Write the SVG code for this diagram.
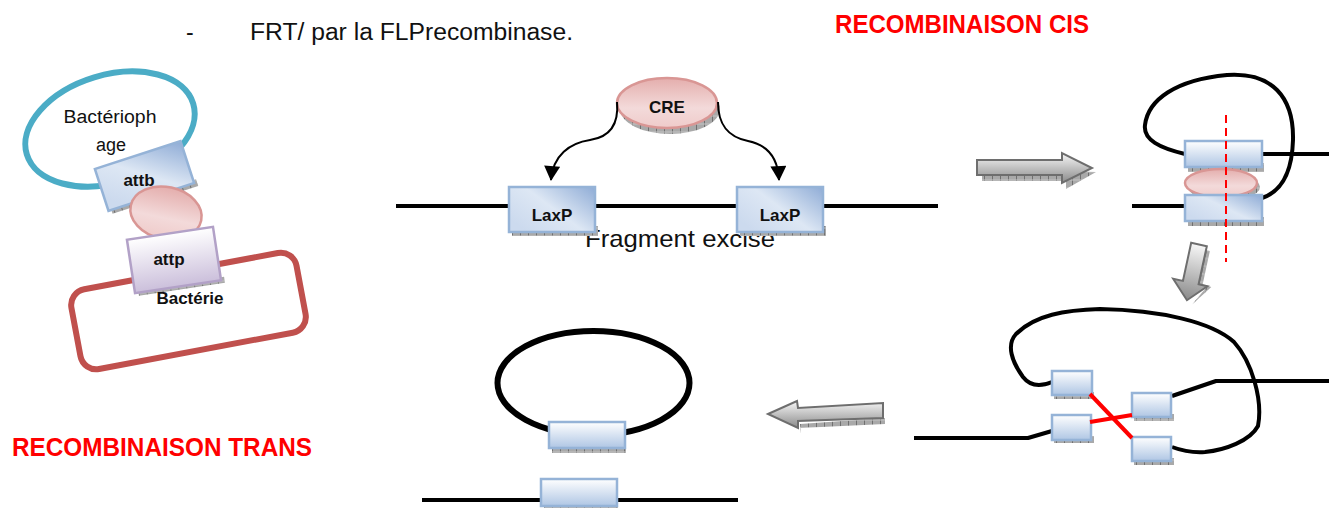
<svg xmlns="http://www.w3.org/2000/svg" width="1329" height="508" viewBox="0 0 1329 508">
  <style>
    .txt { font-family: "Liberation Sans", Arial, sans-serif; fill: #111; }
    .bold { font-weight: bold; }
    .title { font-family: "Liberation Sans", Arial, sans-serif; font-weight: bold; fill: #FF0000; font-size: 25px; }
    .dna { fill: none; stroke: #000; stroke-width: 4; stroke-linecap: butt; stroke-linejoin: round; }
    .box { fill: url(#boxGrad); stroke: #95B3D7; stroke-width: 2.5; }
    .lax { fill: url(#laxGrad); stroke: #95B3D7; stroke-width: 2.5; }
    .shadow { fill: url(#hatch); }
    .pink { fill: url(#pinkGrad); stroke: #D99694; stroke-width: 2.5; }
    .garrow { fill: url(#arrowGrad); stroke: #6E6E6E; stroke-width: 2; stroke-linejoin: miter; }
    .cut { stroke: #FF0000; stroke-width: 4; }
    .curve { fill: none; stroke: #000; stroke-width: 2; }
  </style>
  <defs>
    <pattern id="hatch" patternUnits="userSpaceOnUse" width="8" height="8">
      <rect width="8" height="8" fill="#A9A9A9"/>
      <line x1="0.5" y1="0" x2="0.5" y2="8" stroke="#707070" stroke-width="1"/>
      <path d="M0,4 L8,4" stroke="#C4C4C4" stroke-width="1"/>
    </pattern>
    <linearGradient id="boxGrad" x1="0" y1="0" x2="0" y2="1">
      <stop offset="0" stop-color="#FFFFFF"/>
      <stop offset="1" stop-color="#AFC6E4"/>
    </linearGradient>
    <linearGradient id="laxGrad" x1="0" y1="0.7" x2="1" y2="0">
      <stop offset="0" stop-color="#CCDAEE"/>
      <stop offset="0.45" stop-color="#DDE7F4"/>
      <stop offset="1" stop-color="#8FACD6"/>
    </linearGradient>
    <linearGradient id="attpGrad" x1="0" y1="0" x2="0" y2="1">
      <stop offset="0" stop-color="#FFFFFF"/>
      <stop offset="1" stop-color="#CBBFDB"/>
    </linearGradient>
    <linearGradient id="pinkGrad" x1="0" y1="0" x2="0" y2="1">
      <stop offset="0" stop-color="#E4AEAD"/>
      <stop offset="0.6" stop-color="#F3DADA"/>
      <stop offset="1" stop-color="#EFCBCA"/>
    </linearGradient>
    <linearGradient id="arrowGrad" x1="0" y1="0" x2="0" y2="1">
      <stop offset="0" stop-color="#F7F7F7"/>
      <stop offset="1" stop-color="#8A8A8A"/>
    </linearGradient>
    <marker id="head" markerUnits="userSpaceOnUse" markerWidth="16" markerHeight="16" viewBox="0 0 14 15" refX="13" refY="7.5" orient="auto">
      <path d="M0,0 L14,7.5 L0,15 z" fill="#000"/>
    </marker>
  </defs>

  <!-- heading text -->
  <g id="heading">
    <text class="txt" x="186" y="40" font-size="23">-</text>
    <text class="txt" x="250" y="40" font-size="23.5" textLength="323" lengthAdjust="spacingAndGlyphs">FRT/ par la FLPrecombinase.</text>
    <text class="title" x="835" y="33" textLength="254" lengthAdjust="spacingAndGlyphs">RECOMBINAISON CIS</text>
    <text class="title" x="12" y="456" textLength="300" lengthAdjust="spacingAndGlyphs">RECOMBINAISON TRANS</text>
  </g>

  <!-- trans recombination: phage / bacterium -->
  <g id="bacterie">
    <rect x="-114.5" y="-40.5" width="229" height="81" rx="16" transform="translate(188.5,311) rotate(-10.6)" fill="none" stroke="#C0504D" stroke-width="6"/>
  </g>
  <g id="bacteriophage">
    <ellipse cx="110" cy="129" rx="87" ry="54" transform="rotate(-17 110 129)" fill="none" stroke="#4BACC6" stroke-width="6"/>
    <text class="txt" x="110" y="123" font-size="18" text-anchor="middle" textLength="93" lengthAdjust="spacingAndGlyphs">Bactérioph</text>
    <text class="txt" x="111" y="151" font-size="18" text-anchor="middle">age</text>
  </g>
  <g id="attb">
    <g transform="translate(144.5,176) rotate(-18)">
      <rect class="shadow" x="-42" y="19" width="90" height="7"/>
      <rect class="lax" x="-45" y="-22" width="90" height="44"/>
    </g>
    <text class="txt bold" x="139" y="186" font-size="17" text-anchor="middle">attb</text>
  </g>
  <g id="integrase">
    <ellipse class="pink" cx="166" cy="213" rx="36" ry="26" transform="rotate(12 166 213)"/>
  </g>
  <g id="attp">
    <g transform="translate(174,260) rotate(-8.6)">
      <rect class="shadow" x="-40" y="24" width="87" height="6"/>
      <rect x="-43.5" y="-27" width="87" height="54" fill="url(#attpGrad)" stroke="#B2A1C7" stroke-width="2.5"/>
    </g>
    <text class="txt bold" x="169" y="265" font-size="17" text-anchor="middle">attp</text>
    <text class="txt bold" x="190" y="304" font-size="17" text-anchor="middle">Bactérie</text>
  </g>

  <!-- cis recombination: excision step -->
  <g id="adn-lineaire">
    <line class="dna" x1="396" y1="206" x2="938" y2="206"/>
    <text class="txt" x="585" y="247" font-size="24" textLength="190" lengthAdjust="spacingAndGlyphs">Fragment excise</text>
  </g>
  <g id="laxp-1">
    <rect class="shadow" x="512" y="226" width="86" height="10"/>
    <rect class="lax" x="509" y="187" width="86" height="45"/>
    <text class="txt bold" x="552" y="221" font-size="17" text-anchor="middle">LaxP</text>
  </g>
  <g id="laxp-2">
    <rect class="shadow" x="740" y="226" width="86" height="10"/>
    <rect class="lax" x="737" y="187" width="86" height="45"/>
    <text class="txt bold" x="780" y="221" font-size="17" text-anchor="middle">LaxP</text>
  </g>
  <g id="cre">
    <ellipse class="shadow" cx="670" cy="109" rx="50" ry="25"/>
    <ellipse class="pink" cx="667" cy="103" rx="50" ry="25"/>
    <text class="txt bold" x="667" y="113" font-size="17" text-anchor="middle">CRE</text>
  </g>

  <!-- cis recombination: synapsis -->
  <g id="synapse">
    <line class="dna" x1="1262" y1="154" x2="1329" y2="154"/>
    <line class="dna" x1="1132" y1="206" x2="1185" y2="206"/>
    <path class="dna" d="M1185,154 C1160,148 1143,140 1145,125 C1148,100 1175,80 1227,75 C1272,72 1294,97 1293,140 C1292,175 1280,192 1262,198"/>
    <rect class="shadow" x="1188" y="163" width="76" height="9"/>
    <rect class="box" x="1185" y="141" width="77" height="26"/>
    <ellipse class="shadow" cx="1224" cy="187" rx="36" ry="14"/>
    <ellipse class="pink" cx="1221" cy="183" rx="36" ry="14"/>
    <rect class="shadow" x="1188" y="217" width="76" height="9"/>
    <rect class="lax" x="1185" y="195" width="77" height="26"/>
    <line x1="1226" y1="115" x2="1226" y2="262" stroke="#FF0000" stroke-width="2" stroke-dasharray="8 5"/>
  </g>

  <!-- cis recombination: strand exchange -->
  <g id="echange">
    <path class="dna" d="M914,438 L1028,438 L1052,431"/>
    <path class="dna" d="M1172,396 L1216,381 L1329,381"/>
    <path class="dna" d="M1052,382 C1040,387 1030,386 1023,377 C1012,362 1006,345 1016,334 C1035,315 1065,310 1100,309 C1160,310 1212,322 1234,342 C1252,362 1263,400 1258,426 C1250,441 1225,450 1205,452 C1190,453 1180,450 1172,447"/>
    <rect class="shadow" x="1054" y="392" width="40" height="7"/>
    <rect class="box" x="1052" y="371" width="40" height="24"/>
    <rect class="shadow" x="1054" y="436" width="40" height="7"/>
    <rect class="box" x="1052" y="415" width="39" height="25"/>
    <rect class="shadow" x="1134" y="414" width="40" height="7"/>
    <rect class="box" x="1132" y="393" width="39" height="24"/>
    <rect class="shadow" x="1134" y="458" width="40" height="7"/>
    <rect class="box" x="1132" y="437" width="39" height="24"/>
    <line class="cut" x1="1090" y1="394" x2="1132" y2="438"/>
    <line class="cut" x1="1090" y1="422" x2="1132" y2="415"/>
  </g>

  <!-- products: excised circle and remaining site -->
  <g id="cercle-excise">
    <ellipse cx="593.5" cy="383" rx="96" ry="52" fill="none" stroke="#000" stroke-width="6"/>
    <rect class="shadow" x="552" y="444" width="74" height="9"/>
    <rect class="box" x="549" y="422" width="76" height="26"/>
  </g>
  <g id="site-restant">
    <line class="dna" x1="422" y1="500" x2="738" y2="500"/>
    <rect class="shadow" x="544" y="502" width="74" height="6"/>
    <rect class="box" x="541" y="479" width="76" height="27"/>
  </g>

  <!-- connectors -->
  <g id="connecteurs">
    <path class="curve" d="M617,102 C619,125 610,137 590,140 C570,143 553,155 551,180" marker-end="url(#head)"/>
    <path class="curve" d="M718,102 C718,125 728,137 748,141 C768,145 778,158 779,180" marker-end="url(#head)"/>
    <!-- block arrows between steps -->
    <polygon class="shadow" points="982,175 1066,175 1066,171 1096,172 1066,189 1066,181 982,181"/>
    <polygon class="garrow" points="977,160 1062,160 1062,153 1092,168 1062,183 1062,175 977,175"/>
    <g transform="translate(1199,244.5) rotate(12.2)">
      <polygon class="shadow" points="8,4 12,4 12,38 21,39 6,60 8,56 17,39 8,39"/>
      <polygon class="garrow" points="-8,0 8,0 8,39 17,39 0,57 -18,39 -8,39"/>
    </g>
    <polygon class="shadow" points="800,424 885,418 885,424 800,428 801,434"/>
    <polygon class="garrow" points="768,414 797,401 798,408 883,403 883,418 798,421 798,428"/>
  </g>
</svg>
